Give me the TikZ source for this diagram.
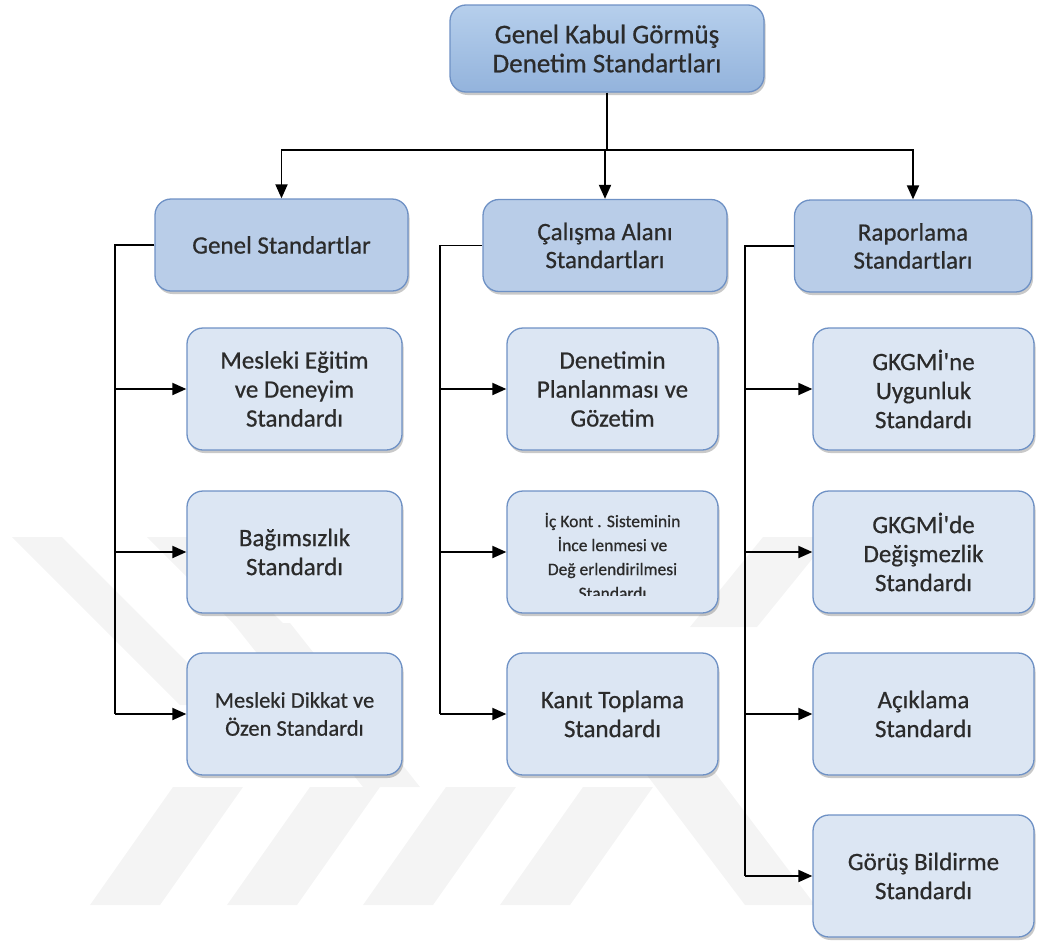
\documentclass[tikz,border=0pt]{standalone}
\usepackage{fontspec}
\setmainfont{Carlito}[Ligatures=TeXOff, FakeBold=0.6]
\usetikzlibrary{arrows.meta,shadows,calc}

\definecolor{txt}{HTML}{2B2B2B}
\definecolor{edge}{HTML}{6E91C5}
\definecolor{topA}{HTML}{B6CFEC}
\definecolor{topB}{HTML}{93B3DC}
\definecolor{midfill}{HTML}{B9CDE8}
\definecolor{leaffill}{HTML}{DCE6F3}
\definecolor{wm}{HTML}{F4F4F4}

\tikzset{
  base/.style={rounded corners=16pt, line width=1.3pt, align=center, text=txt,
    inner sep=2pt, draw=edge,
    drop shadow={shadow xshift=1.5pt, shadow yshift=-3pt, opacity=0.3, fill=black!70}},
  topbox/.style={base, top color=topA, bottom color=topB,
    minimum width=314pt, minimum height=87pt, font=\fontsize{27}{29}\selectfont},
  midbox/.style={base, fill=midfill, minimum height=92pt, font=\fontsize{25}{28}\selectfont},
  leafbox/.style={base, fill=leaffill, minimum height=122pt, font=\fontsize{25}{29}\selectfont},
  plaintext/.style={align=center, text=txt, inner sep=0pt},
  link/.style={line width=1.9pt, black},
  arr/.style={link, -{Triangle[length=14pt,width=12pt]}},
  band/.style={fill=wm, draw=none}
}

\begin{document}
\begin{tikzpicture}[x=1pt,y=-1pt]
\useasboundingbox (0,0) rectangle (1038,945);

% faint watermark stripes in the background
\fill[band] (12,537) -- (62,537) -- (230,705) -- (180,705) -- cycle;
\fill[band] (147,537) -- (197,537) -- (365,705) -- (315,705) -- cycle;
\fill[band] (90,905) -- (160,905) -- (243,787) -- (173,787) -- cycle;
\fill[band] (227,905) -- (297,905) -- (380,787) -- (310,787) -- cycle;
\fill[band] (363,905) -- (433,905) -- (516,787) -- (446,787) -- cycle;
\fill[band] (500,905) -- (570,905) -- (653,787) -- (583,787) -- cycle;
\fill[band] (560,660) -- (630,660) -- (815,905) -- (745,905) -- cycle;
\fill[band] (233,623) -- (290,623) -- (420,787) -- (363,787) -- cycle;
\fill[band] (690,627) -- (757,627) -- (830,537) -- (763,537) -- cycle;

% top level
\node[topbox] (top) at (607,48.5) {Genel Kabul Görmüş\\Denetim Standartları};

% second level
\node[midbox, minimum width=253pt] (g1) at (281.5,245) {Genel Standartlar};
\node[midbox, minimum width=244pt] (g2) at (605,245.5) {Çalışma Alanı\\Standartları};
\node[midbox, minimum width=237pt] (g3) at (913,246) {Raporlama\\Standartları};

% first column
\node[leafbox, minimum width=215pt] (c11) at (294.5,389) {Mesleki Eğitim\\ve Deneyim\\Standardı};
\node[leafbox, minimum width=215pt] (c12) at (294.5,552) {Bağımsızlık\\Standardı};
\node[leafbox, minimum width=215pt, font=\fontsize{22.5}{28}\selectfont] (c13) at (294.5,714) {Mesleki Dikkat ve\\Özen Standardı};

% second column
\node[leafbox, minimum width=211pt] (c21) at (612.5,389) {Denetimin\\Planlanması ve\\Gözetim};
\node[leafbox, minimum width=211pt] (c22) at (612.5,552) {};
\begin{scope}
  \clip (507,500) rectangle (718,595);
  \node[plaintext, font=\fontsize{17.5}{24}\selectfont] (c22t) at (612.5,556)
    {İç Kont . Sisteminin\\İnce lenmesi ve\\Değ erlendirilmesi\\Standardı};
\end{scope}
\node[leafbox, minimum width=211pt] (c23) at (612.5,714) {Kanıt Toplama\\Standardı};

% third column
\node[leafbox, minimum width=221pt] (c31) at (923.5,389) {GKGMİ'ne\\Uygunluk\\Standardı};
\node[leafbox, minimum width=221pt] (c32) at (923.5,552) {GKGMİ'de\\Değişmezlik\\Standardı};
\node[leafbox, minimum width=221pt] (c33) at (923.5,714) {Açıklama\\Standardı};
\node[leafbox, minimum width=221pt] (c34) at (923.5,876) {Görüş Bildirme\\Standardı};

% top to second level
\coordinate (bus) at (607,150);
\draw[link] (top.south) -- (bus);
\draw[arr] (bus) -| (g1.north);
\draw[arr] (bus) -| (g3.north);
\draw[arr] (g2.north |- bus) -- (g2.north);

% side rails
\coordinate (r1) at (115,0);
\coordinate (r2) at (440,0);
\coordinate (r3) at (745,0);

\draw[link] (g1.west) -- (g1.west -| r1) -- (c13.west -| r1);
\draw[link] (g2.west) -- (g2.west -| r2) -- (c23.west -| r2);
\draw[link] (g3.west) -- (g3.west -| r3) -- (c34.west -| r3);

\foreach \c in {c11,c12,c13} \draw[arr] (\c.west -| r1) -- (\c.west);
\foreach \c in {c21,c22,c23} \draw[arr] (\c.west -| r2) -- (\c.west);
\foreach \c in {c31,c32,c33,c34} \draw[arr] (\c.west -| r3) -- (\c.west);
\end{tikzpicture}
\end{document}
